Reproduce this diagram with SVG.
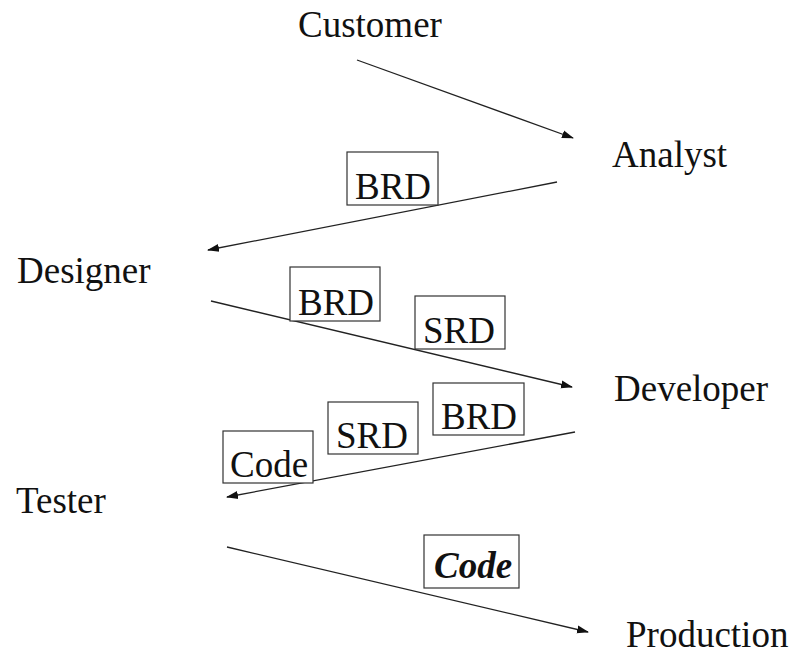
<svg xmlns="http://www.w3.org/2000/svg" width="794" height="654" viewBox="0 0 794 654">
  <style>
    .lbl { font-family: "Liberation Serif", "Times New Roman", serif; font-size: 37px; fill: #111; }
    .doc rect { fill: #fff; stroke: #333; stroke-width: 1.2; }
    .doc text { font-family: "Liberation Serif", "Times New Roman", serif; font-size: 37px; fill: #111; }
    .em { font-weight: bold; font-style: italic; font-size: 36px; }
    .flow line { stroke: #222; stroke-width: 1.3; marker-end: url(#arrow); }
  </style>
  <defs>
    <marker id="arrow" viewBox="0 0 12 10" refX="11" refY="5" markerWidth="12" markerHeight="10" markerUnits="userSpaceOnUse" orient="auto">
      <path d="M0,1 L12,5 L0,9 Z" fill="#111"/>
    </marker>
  </defs>
  <rect width="794" height="654" fill="#fff"/>

  <!-- hand-off arrows -->
  <g id="connectors" class="flow">
    <line x1="357" y1="60" x2="573" y2="138"/>
    <line x1="557" y1="182" x2="208" y2="250"/>
    <line x1="211" y1="301" x2="572" y2="387"/>
    <line x1="575" y1="432" x2="227" y2="497"/>
    <line x1="227" y1="547" x2="588" y2="632"/>
  </g>

  <!-- roles -->
  <g id="customer"><text class="lbl" x="298" y="37">Customer</text></g>
  <g id="analyst"><text class="lbl" x="612" y="167">Analyst</text></g>
  <g id="designer"><text class="lbl" x="17" y="283">Designer</text></g>
  <g id="developer"><text class="lbl" x="614" y="401">Developer</text></g>
  <g id="tester"><text class="lbl" x="16" y="513">Tester</text></g>
  <g id="production"><text class="lbl" x="626" y="647">Production</text></g>

  <!-- documents passed along -->
  <g id="doc-brd-1" class="doc">
    <rect x="347" y="152" width="91" height="53"/>
    <text x="355" y="199">BRD</text>
  </g>
  <g id="doc-brd-2" class="doc">
    <rect x="290" y="267" width="90" height="54"/>
    <text x="298" y="315">BRD</text>
  </g>
  <g id="doc-srd-1" class="doc">
    <rect x="415" y="296" width="90" height="53"/>
    <text x="423" y="343">SRD</text>
  </g>
  <g id="doc-code-1" class="doc">
    <rect x="223" y="431" width="90" height="52"/>
    <text x="230" y="477">Code</text>
  </g>
  <g id="doc-srd-2" class="doc">
    <rect x="328" y="402" width="90" height="52"/>
    <text x="336" y="448">SRD</text>
  </g>
  <g id="doc-brd-3" class="doc">
    <rect x="433" y="383" width="91" height="52"/>
    <text x="441" y="429">BRD</text>
  </g>
  <g id="doc-code-2" class="doc">
    <rect x="424" y="535" width="95" height="53"/>
    <text class="em" x="434" y="578">Code</text>
  </g>
</svg>
